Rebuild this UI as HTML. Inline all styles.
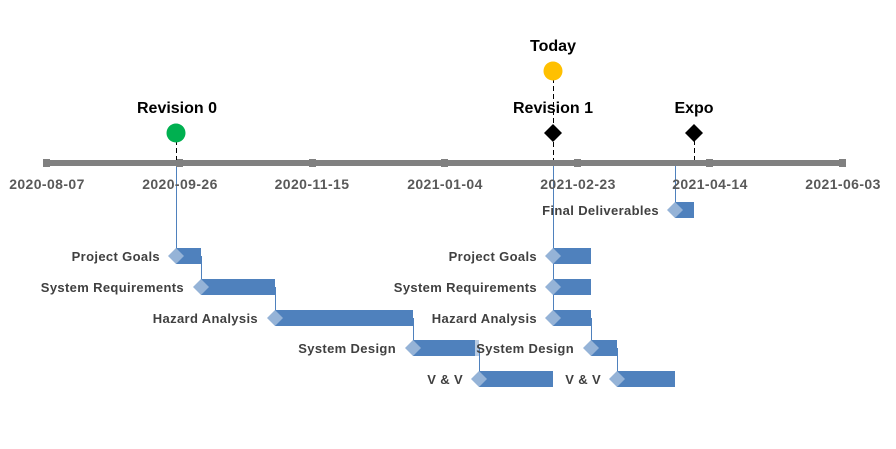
<!DOCTYPE html>
<html><head><meta charset="utf-8"><style>
html,body{margin:0;padding:0;background:#fff;}
svg{display:block;}
.d{font-family:"Liberation Sans",sans-serif;font-weight:bold;font-size:14px;letter-spacing:0.4px;fill:#595959;text-anchor:middle;}
.l{font-family:"Liberation Sans",sans-serif;font-weight:bold;font-size:13px;letter-spacing:0.35px;fill:#404040;text-anchor:end;}
.m{font-family:"Liberation Sans",sans-serif;font-weight:bold;font-size:16px;fill:#000;text-anchor:middle;}
</style></head><body>
<svg width="896" height="449" viewBox="0 0 896 449">
<g stroke="#4f81bd" stroke-width="1" fill="none">
<line x1="176.5" y1="163" x2="176.5" y2="256"/>
<line x1="201.5" y1="256" x2="201.5" y2="287"/>
<line x1="275.5" y1="287" x2="275.5" y2="318"/>
<line x1="413.5" y1="318" x2="413.5" y2="348"/>
<line x1="479.5" y1="348" x2="479.5" y2="379"/>
<line x1="553.5" y1="163" x2="553.5" y2="318"/>
<line x1="591.5" y1="318" x2="591.5" y2="348"/>
<line x1="617.5" y1="348" x2="617.5" y2="379"/>
<line x1="675.5" y1="163" x2="675.5" y2="210"/>
</g>
<rect x="43" y="160" width="800" height="6" fill="#808080"/>
<g fill="#808080">
<rect x="43" y="159" width="7" height="8"/><rect x="176" y="159" width="7" height="8"/>
<rect x="309" y="159" width="7" height="8"/><rect x="441" y="159" width="7" height="8"/>
<rect x="574" y="159" width="7" height="8"/><rect x="706" y="159" width="7" height="8"/>
<rect x="839" y="159" width="7" height="8"/>
</g>
<g class="d">
<text x="47" y="189">2020-08-07</text><text x="180" y="189">2020-09-26</text>
<text x="312" y="189">2020-11-15</text><text x="445" y="189">2021-01-04</text>
<text x="578" y="189">2021-02-23</text><text x="710" y="189">2021-04-14</text>
<text x="843" y="189">2021-06-03</text>
</g>
<g stroke="#000" stroke-width="1" stroke-dasharray="5,3">
<line x1="176.5" y1="140" x2="176.5" y2="160"/>
<line x1="553.5" y1="78" x2="553.5" y2="160"/>
<line x1="694.5" y1="140" x2="694.5" y2="160"/>
</g>
<circle cx="176" cy="133" r="9.5" fill="#00b050"/>
<circle cx="553" cy="71" r="9.5" fill="#ffc000"/>
<polygon points="553,124 562,133 553,142 544,133" fill="#000"/>
<polygon points="694,124 703,133 694,142 685,133" fill="#000"/>
<text class="m" x="177" y="113">Revision 0</text>
<text class="m" x="553" y="51">Today</text>
<text class="m" x="553" y="113">Revision 1</text>
<text class="m" x="694" y="113">Expo</text>
<g fill="#4f81bd">
<rect x="176" y="248" width="25" height="16"/>
<rect x="201" y="279" width="74" height="16"/>
<rect x="275" y="310" width="138" height="16"/>
<rect x="413" y="340" width="63" height="16"/>
<rect x="479" y="371" width="74" height="16"/>
<rect x="553" y="248" width="38" height="16"/>
<rect x="553" y="279" width="38" height="16"/>
<rect x="553" y="310" width="38" height="16"/>
<rect x="591" y="340" width="26" height="16"/>
<rect x="617" y="371" width="58" height="16"/>
<rect x="675" y="202" width="19" height="16"/>
</g>
<rect x="475" y="340" width="4" height="16" fill="#b8cce4"/>
<g fill="#95b3d7">
<polygon points="176,248 184,256 176,264 168,256"/>
<polygon points="201,279 209,287 201,295 193,287"/>
<polygon points="275,310 283,318 275,326 267,318"/>
<polygon points="413,340 421,348 413,356 405,348"/>
<polygon points="479,371 487,379 479,387 471,379"/>
<polygon points="553,248 561,256 553,264 545,256"/>
<polygon points="553,279 561,287 553,295 545,287"/>
<polygon points="553,310 561,318 553,326 545,318"/>
<polygon points="591,340 599,348 591,356 583,348"/>
<polygon points="617,371 625,379 617,387 609,379"/>
<polygon points="675,202 683,210 675,218 667,210"/>
</g>
<g class="l">
<text x="160" y="261">Project Goals</text>
<text x="184" y="292">System Requirements</text>
<text x="258" y="323">Hazard Analysis</text>
<text x="396" y="353">System Design</text>
<text x="463" y="384">V &amp; V</text>
<text x="537" y="261">Project Goals</text>
<text x="537" y="292">System Requirements</text>
<text x="537" y="323">Hazard Analysis</text>
<text x="574" y="353">System Design</text>
<text x="601" y="384">V &amp; V</text>
<text x="659" y="215">Final Deliverables</text>
</g>
</svg>
</body></html>
